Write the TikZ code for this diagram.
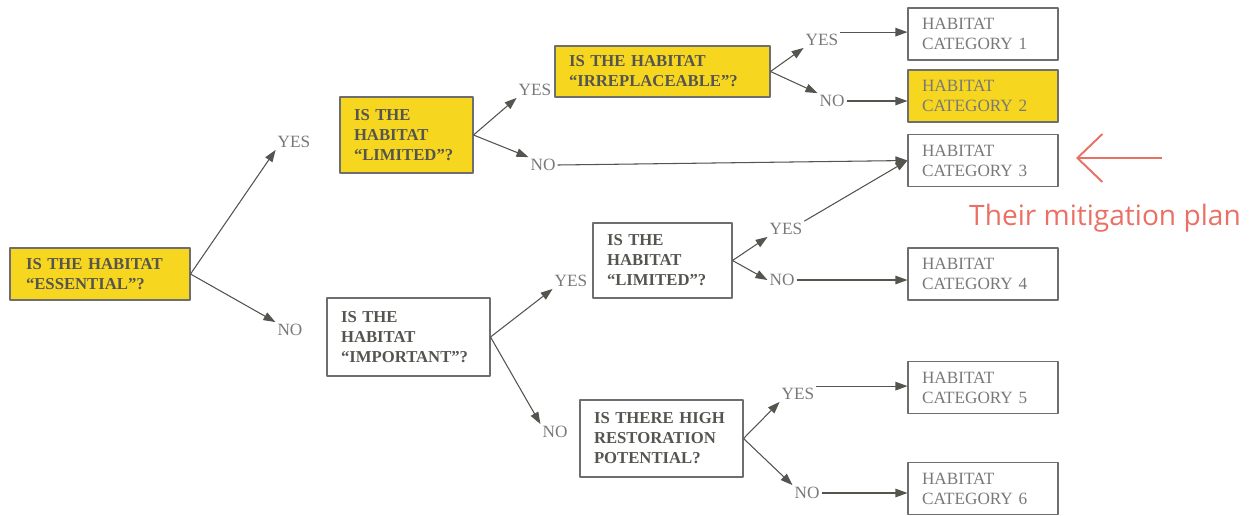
\documentclass[tikz,border=0pt]{standalone}
\usepackage{fontspec}
\setmainfont{Liberation Serif}
\newfontfamily\notefont{Open Sans}
\usetikzlibrary{arrows.meta}
\definecolor{hlyellow}{RGB}{247,214,32}
\definecolor{boxgray}{RGB}{110,110,110}
\definecolor{txtgray}{RGB}{85,85,80}
\definecolor{catgray}{RGB}{120,120,120}
\definecolor{notered}{RGB}{234,112,100}
\tikzset{
  qbox/.style={draw=boxgray, line width=0.6pt, align=left, inner xsep=0.28cm,
    font=\fontsize{9.5}{11.4}\selectfont\bfseries, text=txtgray},
  catbox/.style={draw=boxgray, line width=0.6pt, align=left, inner xsep=0.28cm,
    text width=2.44cm, minimum height=1.04cm,
    font=\fontsize{9.8}{11.4}\selectfont, text=catgray},
  hl/.style={fill=hlyellow},
  ans/.style={font=\fontsize{9.8}{11}\selectfont, text=catgray, inner sep=1pt},
  link/.style={-{Triangle[length=2.4mm,width=1.7mm]}, draw=txtgray, fill=txtgray, line width=0.6pt},
}
\begin{document}
\begin{tikzpicture}[x=0.02cm, y=-0.02cm, line join=round]
	\useasboundingbox (0,0) rectangle (1255,515);
	% question boxes
	\node[qbox,hl,text width=2.96cm,inner xsep=0.32cm,minimum height=1.04cm] (ess) at (100,274) {IS THE HABITAT\\``ESSENTIAL''?};
	\node[qbox,hl,text width=2.1cm,minimum height=1.52cm] (limA) at (406.5,135) {IS THE\\HABITAT\\``LIMITED''?};
	\node[qbox,hl,text width=3.74cm,minimum height=1.02cm] (irr) at (662.5,71.5) {IS THE HABITAT\\``IRREPLACEABLE''?};
	\node[qbox,text width=2.7cm,minimum height=1.56cm] (imp) at (408.5,337) {IS THE\\HABITAT\\``IMPORTANT''?};
	\node[qbox,text width=2.22cm,minimum height=1.5cm] (limB) at (662.5,260.5) {IS THE\\HABITAT\\``LIMITED''?};
	\node[qbox,text width=2.7cm,minimum height=1.54cm] (rest) at (661.5,438.5) {IS THERE HIGH\\RESTORATION\\POTENTIAL?};
	% category boxes
	\node[catbox] (cat1) at (983,34) {HABITAT\\CATEGORY 1};
	\node[catbox,hl] (cat2) at (983,96) {HABITAT\\CATEGORY 2};
	\node[catbox] (cat3) at (983,160.5) {HABITAT\\CATEGORY 3};
	\node[catbox] (cat4) at (983,274) {HABITAT\\CATEGORY 4};
	\node[catbox] (cat5) at (983,387.5) {HABITAT\\CATEGORY 5};
	\node[catbox] (cat6) at (983,488.5) {HABITAT\\CATEGORY 6};
	% yes/no labels
	\node[ans] (yesA) at (294,142) {YES};
	\node[ans] (noA) at (290,330) {NO};
	\node[ans] (yesB) at (535,90) {YES};
	\node[ans] (noB) at (543,165) {NO};
	\node[ans] (yesC) at (822,40) {YES};
	\node[ans] (noC) at (832,101) {NO};
	\node[ans] (yesD) at (786,229) {YES};
	\node[ans] (noD) at (782,280) {NO};
	\node[ans] (yesE) at (571,281) {YES};
	\node[ans] (noE) at (555,432) {NO};
	\node[ans] (yesF) at (798,394) {YES};
	\node[ans] (noF) at (807,493) {NO};
	% connectors
	\draw[link] (ess.east) -- (yesA.south west);
	\draw[link] (ess.east) -- (noA.north west);
	\draw[link] (limA.east) -- (yesB.south west);
	\draw[link] (limA.east) -- (noB.north west);
	\draw[link] (noB.east) -- (cat3.west);
	\draw[link] (irr.east) -- (yesC.south west);
	\draw[link] (irr.east) -- (noC.north west);
	\draw[link] (yesC.north east) -- (yesC.north east -| cat1.west);
	\draw[link] (noC.east) -- (noC.east -| cat2.west);
	\draw[link] (imp.east) -- (yesE.south west);
	\draw[link] (imp.east) -- (noE.north west);
	\draw[link] (limB.east) -- (yesD.south west);
	\draw[link] (limB.east) -- (noD.west);
	\draw[link] (yesD.north east) -- (cat3.west);
	\draw[link] (noD.east) -- (noD.east -| cat4.west);
	\draw[link] (rest.east) -- (yesF.south west);
	\draw[link] (rest.east) -- (noF.north west);
	\draw[link] (yesF.north east) -- (yesF.north east -| cat5.west);
	\draw[link] (noF.east) -- (noF.east -| cat6.west);
	% note
	\coordinate (tail) at (1162,158);
	\coordinate (tip) at (1076,158);
	\draw[notered, line width=1.1pt, -{Straight Barb[length=5mm,width=9.6mm]}] (tail) -- (tip);
	\node[text=notered, font=\notefont\fontsize{16}{18}\selectfont] (note) at (1105,218) {Their mitigation plan};
\end{tikzpicture}
\end{document}
